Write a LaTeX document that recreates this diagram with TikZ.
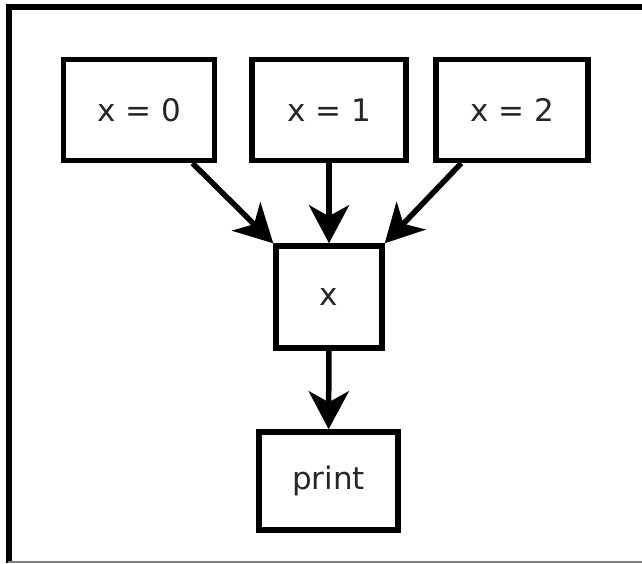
\documentclass[tikz,border=0pt]{standalone}
\usepackage{fontspec}
\setmainfont{DejaVu Sans}
\usetikzlibrary{arrows.meta}
\begin{document}
\begin{tikzpicture}[x=1pt,y=-1pt,
  box/.style={draw=black, line width=5.5pt, inner sep=0pt, font=\fontsize{31}{33}\selectfont, text=black!85},
  conn/.style={line width=5.5pt, -{Stealth[length=38pt,width=40pt,inset=11pt]}}]
\useasboundingbox (0,0) rectangle (642,563);
\fill[white] (0,0) rectangle (642,563);
\draw[line width=6pt] (8.5,563) -- (8.5,7) -- (642,7);
\draw[line width=2pt, gray] (8,562) -- (642,562);
\node[box, minimum width=151pt, minimum height=101pt] (a0) at (139,110) {x = 0};
\node[box, minimum width=154pt, minimum height=101pt] (a1) at (329,110) {x = 1};
\node[box, minimum width=152pt, minimum height=101pt] (a2) at (512,110) {x = 2};
\node[box, minimum width=106pt, minimum height=102pt] (x) at (329,297) {x};
\node[box, minimum width=139pt, minimum height=98pt] (p) at (328.5,481) {print};
\draw[conn] (a0) -- (x.north west);
\draw[conn] (a1) -- (x);
\draw[conn] (a2) -- (x.north east);
\draw[conn] (x) -- (p);
\end{tikzpicture}
\end{document}
